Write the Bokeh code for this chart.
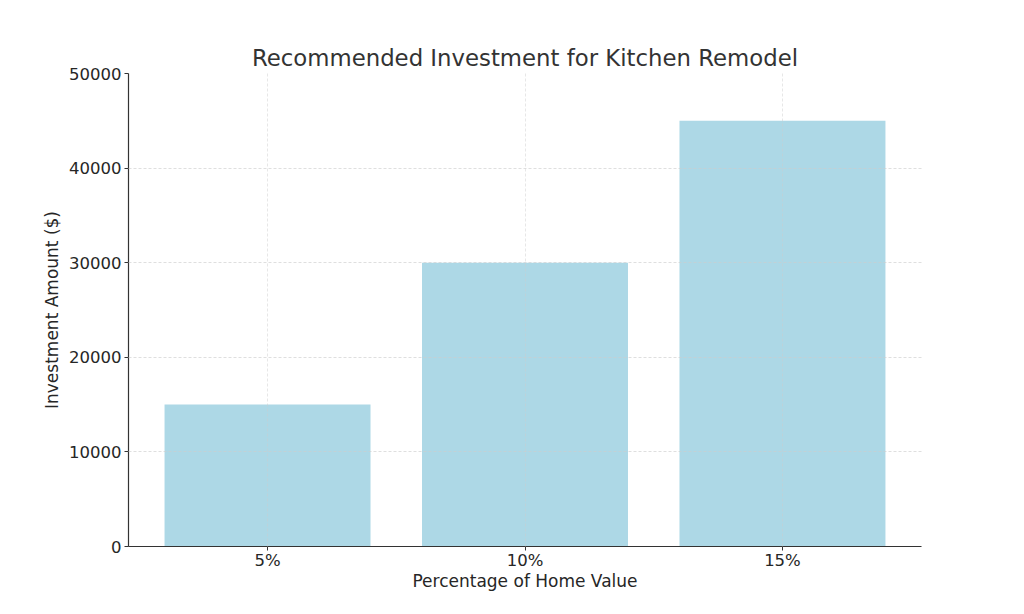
from bokeh.plotting import figure
from bokeh.models import FactorRange, Range1d, SingleIntervalTicker
from bokeh.embed import file_html
from bokeh.resources import INLINE

categories = ["5%", "10%", "15%"]
amounts = [15000, 30000, 45000]

p = figure(
    width=1016, height=606,
    x_range=FactorRange(factors=categories, range_padding=0.04, range_padding_units="absolute"),
    y_range=Range1d(0, 50000),
    output_backend="svg", toolbar_location=None,
    title="Recommended Investment for Kitchen Remodel",
    min_border_left=128, min_border_right=95, min_border_top=73, min_border_bottom=60,
)
p.vbar(x=categories, top=amounts, width=0.8, fill_color="#ADD8E6", line_color=None)

p.title.align = "center"
p.title.text_font = "DejaVu Sans"
p.title.text_font_size = "22.8px"
p.title.text_font_style = "normal"
p.title.text_color = "#333333"
p.title.standoff = 6

p.outline_line_color = None
p.background_fill_color = "white"
p.border_fill_color = "white"

p.yaxis.ticker = SingleIntervalTicker(interval=10000)
for ax in (p.xaxis, p.yaxis):
    ax.axis_line_color = "#333333"
    ax.axis_line_width = 1.2
    ax.major_tick_line_color = "#333333"
    ax.major_tick_out = 4
    ax.major_tick_in = 0
    ax.minor_tick_line_color = None
    ax.major_label_text_font = "DejaVu Sans"
    ax.major_label_text_font_size = "16.5px"
    ax.major_label_text_color = "#262626"
    ax.axis_label_text_font = "DejaVu Sans"
    ax.axis_label_text_font_size = "17px"
    ax.axis_label_text_font_style = "normal"
    ax.axis_label_text_color = "#262626"
p.xaxis.axis_label = "Percentage of Home Value"
p.yaxis.axis_label = "Investment Amount ($)"
p.xaxis.major_label_standoff = 0
p.yaxis.major_label_standoff = 3
p.xaxis.axis_label_standoff = -2
p.yaxis.axis_label_standoff = 4

for g in (p.xgrid, p.ygrid):
    g.grid_line_color = "#cccccc"
    g.grid_line_alpha = 0.8
    g.grid_line_dash = "3 2"
    g.grid_line_width = 0.8
    g.level = "overlay"
p.xgrid.grid_line_alpha = 0.6

open("out.html", "w").write(file_html(p, INLINE))
